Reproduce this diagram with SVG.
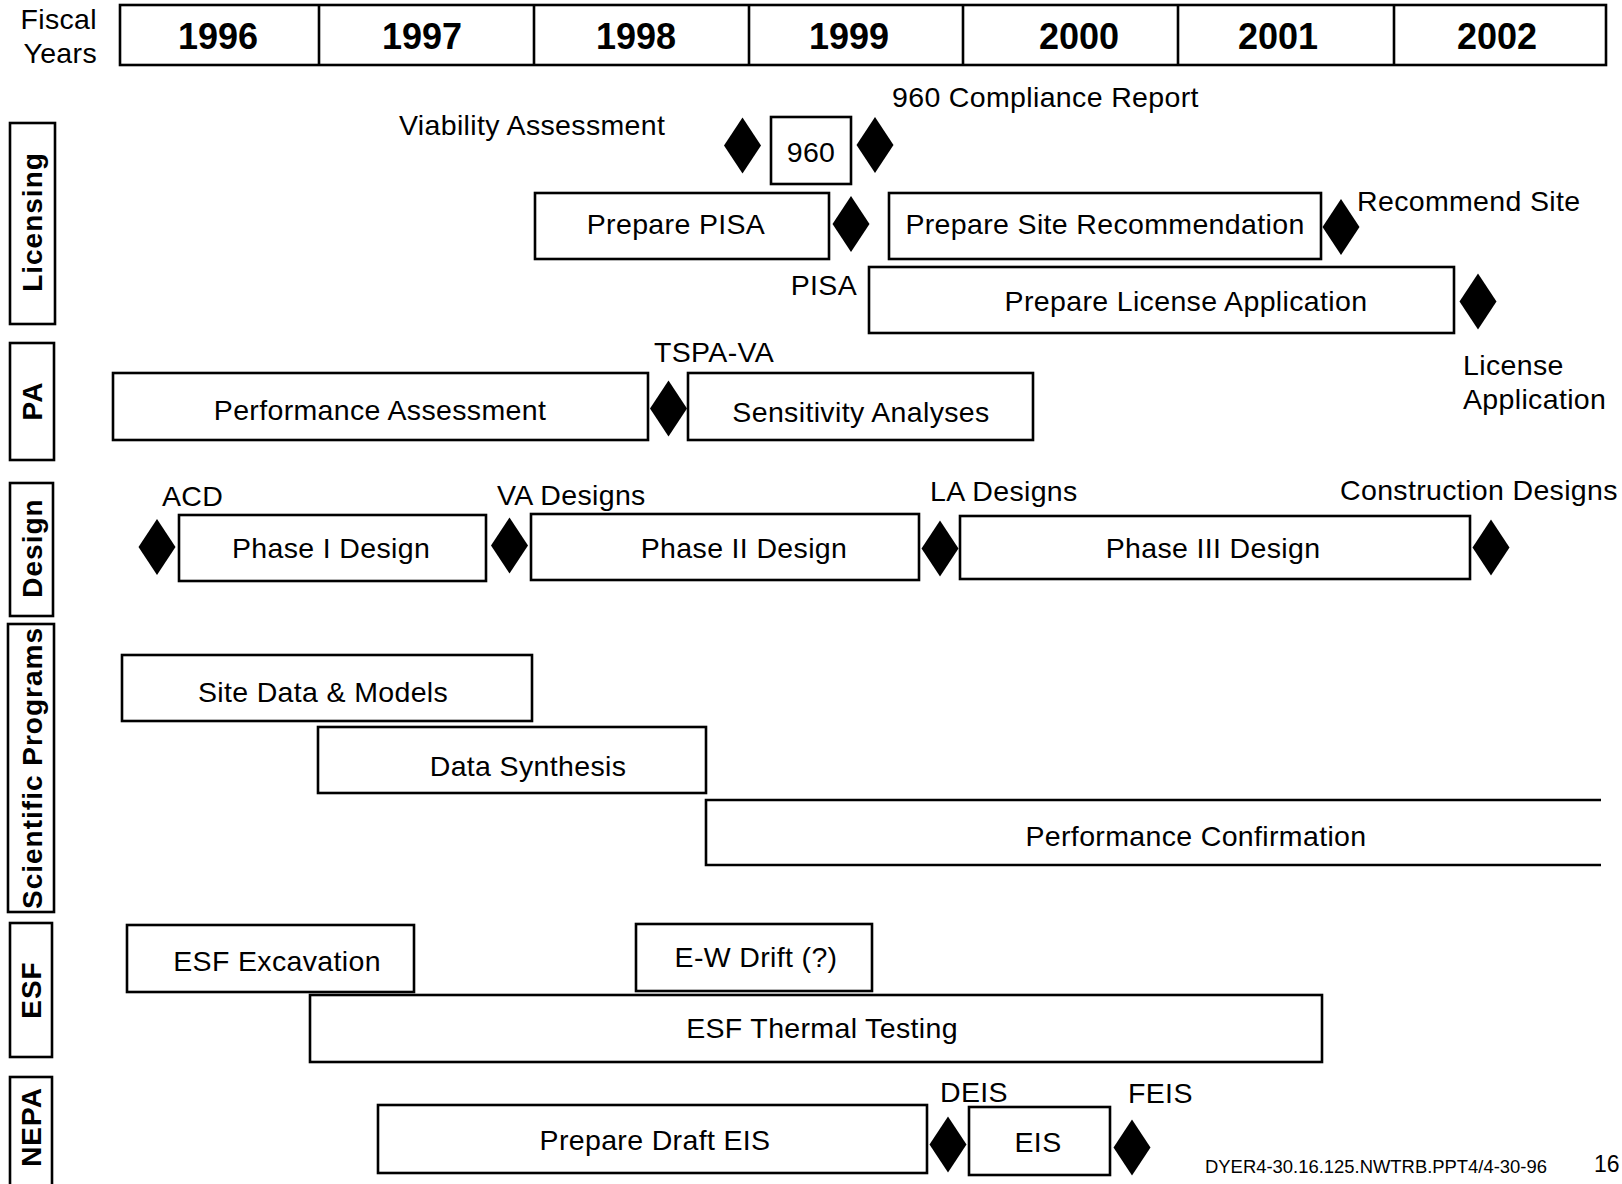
<svg xmlns="http://www.w3.org/2000/svg" xmlns:xlink="http://www.w3.org/1999/xlink" width="1622" height="1184" viewBox="0 0 1622 1184">
<style>
.bg{fill:#fff}
.box{fill:#fff;stroke:#000;stroke-width:2.6}
.ln{fill:none;stroke:#000;stroke-width:2.6}
.dia{fill:#000}
text{font-family:"Liberation Sans",Arial,Helvetica,sans-serif;fill:#000}
.t{font-size:28.5px;letter-spacing:0.35px}
.c{text-anchor:middle}
.e{text-anchor:end}
.yr{font-size:36px;font-weight:bold;text-anchor:middle}
.lbl{font-size:28px;font-weight:bold;text-anchor:middle;letter-spacing:1px}
.ft{font-size:18px}
</style>
<defs>
<path id="dm" class="dia" d="M0,-28 L18.5,0 L0,28 L-18.5,0 Z"/>
</defs>
<rect class="bg" x="0" y="0" width="1622" height="1184"/>

<g id="header">
<text class="t e" x="97" y="29">Fiscal</text>
<text class="t e" x="97" y="63">Years</text>
<rect class="box" x="120" y="5" width="1486" height="60"/>
<path class="ln" d="M319,5V65M534,5V65M749,5V65M963,5V65M1178,5V65M1394,5V65"/>
<text class="yr" x="218" y="49">1996</text>
<text class="yr" x="422" y="49">1997</text>
<text class="yr" x="636" y="49">1998</text>
<text class="yr" x="849" y="49">1999</text>
<text class="yr" x="1079" y="49">2000</text>
<text class="yr" x="1278" y="49">2001</text>
<text class="yr" x="1497" y="49">2002</text>
</g>

<g id="lane-labels">
<g id="lbl-licensing"><rect class="box" x="10" y="123" width="45" height="201"/><text class="lbl" transform="translate(42,222) rotate(-90)">Licensing</text></g>
<g id="lbl-pa"><rect class="box" x="10" y="343" width="44" height="117"/><text class="lbl" transform="translate(42,401) rotate(-90)">PA</text></g>
<g id="lbl-design"><rect class="box" x="10" y="483" width="43" height="133"/><text class="lbl" transform="translate(42,548) rotate(-90)">Design</text></g>
<g id="lbl-sci"><rect class="box" x="8" y="624" width="46" height="288"/><text class="lbl" transform="translate(42,768) rotate(-90)">Scientific Programs</text></g>
<g id="lbl-esf"><rect class="box" x="10" y="923" width="42" height="134"/><text class="lbl" transform="translate(41,990) rotate(-90)">ESF</text></g>
<g id="lbl-nepa"><rect class="box" x="10" y="1077" width="42" height="115"/><text class="lbl" transform="translate(41,1127) rotate(-90)">NEPA</text></g>
</g>

<g id="connectors"></g>

<g id="licensing">
<g id="ms-viability"><use xlink:href="#dm" x="742.5" y="145.5"/><text class="t" x="399" y="135">Viability Assessment</text></g>
<g id="task-960"><rect class="box" x="771" y="117" width="80" height="67"/><text class="t c" x="811" y="162">960</text></g>
<g id="ms-960"><use xlink:href="#dm" x="875" y="145"/><text class="t" x="892" y="107">960 Compliance Report</text></g>
<g id="task-pisa"><rect class="box" x="535" y="193" width="294" height="66"/><text class="t c" x="676" y="234">Prepare PISA</text></g>
<g id="ms-pisa"><use xlink:href="#dm" x="851" y="224"/><text class="t e" x="857" y="295">PISA</text></g>
<g id="task-sr"><rect class="box" x="889" y="193" width="432" height="66"/><text class="t c" x="1105" y="234">Prepare Site Recommendation</text></g>
<g id="ms-rs"><use xlink:href="#dm" x="1341" y="227"/><text class="t" x="1357" y="211">Recommend Site</text></g>
<g id="task-la"><rect class="box" x="869" y="267" width="585" height="66"/><text class="t c" x="1186" y="311">Prepare License Application</text></g>
<g id="ms-la"><use xlink:href="#dm" x="1478" y="301.5"/><text class="t" x="1463" y="375">License</text><text class="t" x="1463" y="409">Application</text></g>
</g>

<g id="pa">
<g id="task-pa"><rect class="box" x="113" y="373" width="535" height="67"/><text class="t c" x="380" y="420">Performance Assessment</text></g>
<g id="ms-tspa"><use xlink:href="#dm" x="668.5" y="408.5"/><text class="t" x="654" y="362">TSPA-VA</text></g>
<g id="task-sa"><rect class="box" x="688" y="373" width="345" height="67"/><text class="t c" x="861" y="422">Sensitivity Analyses</text></g>
</g>

<g id="design">
<g id="ms-acd"><use xlink:href="#dm" x="157" y="547"/><text class="t" x="162" y="506">ACD</text></g>
<g id="task-p1"><rect class="box" x="179" y="515" width="307" height="66"/><text class="t c" x="331" y="558">Phase I Design</text></g>
<g id="ms-va"><use xlink:href="#dm" x="509.5" y="545.5"/><text class="t" x="497" y="505">VA Designs</text></g>
<g id="task-p2"><rect class="box" x="531" y="514" width="388" height="66"/><text class="t c" x="744" y="558">Phase II Design</text></g>
<g id="ms-lad"><use xlink:href="#dm" x="940" y="548.5"/><text class="t" x="930" y="501">LA Designs</text></g>
<g id="task-p3"><rect class="box" x="960" y="516" width="510" height="63"/><text class="t c" x="1213" y="558">Phase III Design</text></g>
<g id="ms-cd"><use xlink:href="#dm" x="1491" y="547.5"/><text class="t" x="1340" y="500">Construction Designs</text></g>
</g>

<g id="scientific">
<g id="task-sdm"><rect class="box" x="122" y="655" width="410" height="66"/><text class="t c" x="323" y="702">Site Data &amp; Models</text></g>
<g id="task-ds"><rect class="box" x="318" y="727" width="388" height="66"/><text class="t c" x="528" y="776">Data Synthesis</text></g>
<g id="task-pc"><path class="ln" d="M1601,800H706V865H1601"/><text class="t c" x="1196" y="846">Performance Confirmation</text></g>
</g>

<g id="esf">
<g id="task-ex"><rect class="box" x="127" y="925" width="287" height="67"/><text class="t c" x="277" y="971">ESF Excavation</text></g>
<g id="task-ew"><rect class="box" x="636" y="924" width="236" height="67"/><text class="t c" x="756" y="967">E-W Drift (?)</text></g>
<g id="task-tt"><rect class="box" x="310" y="995" width="1012" height="67"/><text class="t c" x="822" y="1038">ESF Thermal Testing</text></g>
</g>

<g id="nepa">
<g id="task-deis"><rect class="box" x="378" y="1105" width="549" height="68"/><text class="t c" x="655" y="1150">Prepare Draft EIS</text></g>
<g id="ms-deis"><use xlink:href="#dm" x="948" y="1144.5"/><text class="t" x="940" y="1102">DEIS</text></g>
<g id="task-eis"><rect class="box" x="969" y="1107" width="141" height="68"/><text class="t c" x="1038" y="1152">EIS</text></g>
<g id="ms-feis"><use xlink:href="#dm" x="1132" y="1147.5"/><text class="t" x="1128" y="1103">FEIS</text></g>
</g>

<g id="footer">
<text class="ft" x="1205" y="1173" textLength="342" lengthAdjust="spacingAndGlyphs">DYER4-30.16.125.NWTRB.PPT4/4-30-96</text>
<text x="1594" y="1172" style="font-size:23px">16</text>
</g>
</svg>
